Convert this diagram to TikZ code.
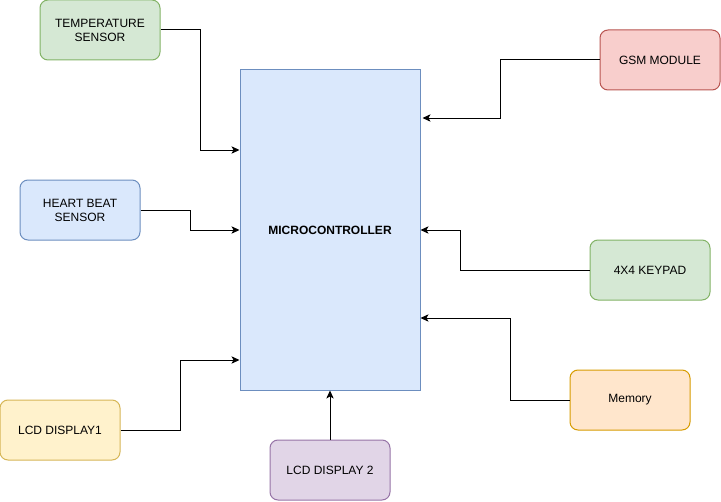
\documentclass[tikz,border=0pt]{standalone}
\usepackage{fontspec}
\setmainfont{Liberation Sans}
\usetikzlibrary{arrows.meta,calc}
\definecolor{greenfill}{HTML}{D5E8D4}
\definecolor{greenline}{HTML}{82B366}
\definecolor{bluefill}{HTML}{DAE8FC}
\definecolor{blueline}{HTML}{6C8EBF}
\definecolor{yellowfill}{HTML}{FFF2CC}
\definecolor{yellowline}{HTML}{D6B656}
\definecolor{purplefill}{HTML}{E1D5E7}
\definecolor{purpleline}{HTML}{9673A6}
\definecolor{redfill}{HTML}{F8CECC}
\definecolor{redline}{HTML}{B85450}
\definecolor{orangefill}{HTML}{FFE6CC}
\definecolor{orangeline}{HTML}{D79B00}
\begin{document}
\begin{tikzpicture}[x=0.75pt,y=0.75pt,
    font=\fontsize{9}{10.5}\selectfont,
    unit/.style={draw=#1line,fill=#1fill,line width=0.75pt,rounded corners=6pt,
      minimum width=90pt,minimum height=45pt,align=center,inner sep=0pt},
    link/.style={-{Stealth[length=6pt,width=5.5pt,inset=1.5pt]},line width=0.75pt}]
  \useasboundingbox (0,0) rectangle (721,501);
  \node[draw=blueline,fill=bluefill,line width=0.75pt,minimum width=135pt,
    minimum height=240pt,font=\fontsize{9}{10.5}\selectfont\bfseries] (mcu) at (330,271) {MICROCONTROLLER};
  \node[unit=green] (temp) at (100,471) {TEMPERATURE\\SENSOR};
  \node[unit=blue] (heart) at (80,291) {HEART BEAT\\SENSOR};
  \node[unit=yellow] (lcd1) at (60,71) {LCD DISPLAY1};
  \node[unit=purple] (lcd2) at (330,31) {LCD DISPLAY 2};
  \node[unit=red] (gsm) at (660,441) {GSM MODULE};
  \node[unit=green] (keypad) at (650,231) {4X4 KEYPAD};
  \node[unit=orange] (memory) at (630,101) {Memory};
  \begin{scope}[link]
    \draw (temp.east) -| (200,351) -- ($(mcu.west)+(0,80)$);
    \draw (heart.east) -| (190,271) -- (mcu.west);
    \draw (lcd1.east) -| (180,141) -- ($(mcu.west)+(0,-130)$);
    \draw (lcd2.north) -- (mcu.south);
    \draw (gsm.west) -| (500,383) -- ($(mcu.east)+(2,112)$);
    \draw (keypad.west) -| (460,271) -- (mcu.east);
    \draw (memory.west) -| (510,183) -- ($(mcu.east)+(0,-88)$);
  \end{scope}
\end{tikzpicture}
\end{document}
